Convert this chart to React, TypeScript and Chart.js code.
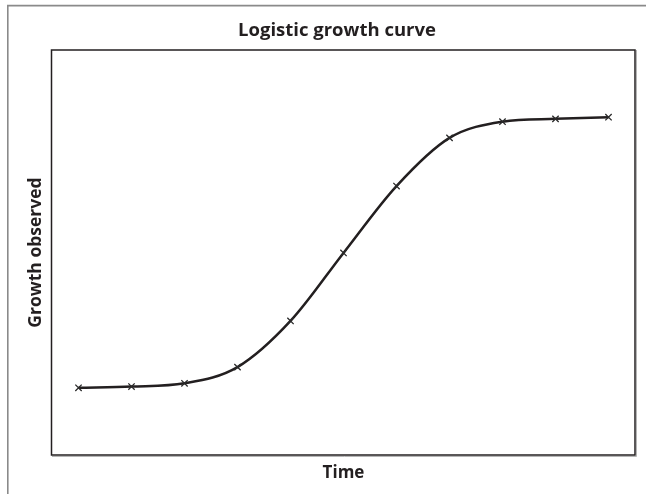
import React, { useEffect, useRef } from "react";
import { Chart, registerables } from "chart.js";

Chart.register(...registerables);

const timePoints = ["1", "2", "3", "4", "5", "6", "7", "8", "9", "10", "11"];
const growthValues = [16.6, 16.9, 17.7, 21.7, 33.1, 49.9, 66.4, 78.3, 82.3, 83.0, 83.4];
const chartTitle = "Logistic growth curve";
const xTitle = "Time";
const yTitle = "Growth observed";

const FONT = "'Open Sans', 'DejaVu Sans', sans-serif";
const INK = "#231f20";

const framePlugin = {
  id: "frame",
  beforeDraw(chart: any) {
    const { ctx, width, height } = chart;
    ctx.save();
    ctx.fillStyle = "#ffffff";
    ctx.fillRect(0, 0, width, height);
    ctx.strokeStyle = "#8a8a8a";
    ctx.lineWidth = 1.6;
    ctx.beginPath();
    ctx.moveTo(7.8, height);
    ctx.lineTo(7.8, 5.6);
    ctx.lineTo(width, 5.6);
    ctx.stroke();
    ctx.restore();
  },
  afterDraw(chart: any) {
    const { ctx, chartArea } = chart;
    const { left, right, top, bottom } = chartArea;
    ctx.save();
    ctx.strokeStyle = "#b5b5b5";
    ctx.lineWidth = 1;
    ctx.beginPath();
    ctx.moveTo(right + 1.5, top);
    ctx.lineTo(right + 1.5, bottom + 1.5);
    ctx.lineTo(left, bottom + 1.5);
    ctx.stroke();
    ctx.strokeStyle = INK;
    ctx.lineWidth = 1.5;
    ctx.strokeRect(left - 0.5, top, right - left + 0.5, bottom - top);
    ctx.restore();
  },
};

export default function App() {
  const canvasRef = useRef<HTMLCanvasElement | null>(null);

  useEffect(() => {
    document.body.style.margin = "0";
    const canvas = canvasRef.current;
    if (!canvas) return;
    const chart = new Chart(canvas, {
      type: "line",
      data: {
        labels: timePoints,
        datasets: [
          {
            data: growthValues,
            borderColor: INK,
            borderWidth: 2.5,
            cubicInterpolationMode: "monotone",
            pointStyle: "crossRot",
            pointRadius: 4.5,
            pointBorderWidth: 1.3,
            pointBorderColor: "#2a2a2a",
            pointBackgroundColor: "#2a2a2a",
            fill: false,
          },
        ],
      },
      options: {
        responsive: false,
        animation: false,
        devicePixelRatio: 1,
        layout: { padding: { left: 39, right: 11, top: 0, bottom: 0 } },
        plugins: {
          legend: { display: false },
          tooltip: { enabled: false },
          title: {
            display: true,
            text: chartTitle,
            color: INK,
            font: { family: FONT, size: 18.5, weight: "bold", lineHeight: 1.2 },
            padding: { top: 19.9, bottom: 7.9 },
          },
        },
        scales: {
          x: {
            type: "category",
            offset: true,
            grid: { display: false, drawTicks: false },
            border: { display: false },
            ticks: { display: false },
            title: {
              display: true,
              text: xTitle,
              color: INK,
              font: { family: FONT, size: 17, weight: "bold", lineHeight: 1.2 },
              padding: { top: 7.8, bottom: 10.8 },
            },
          },
          y: {
            type: "linear",
            min: 0,
            max: 100,
            grid: { display: false, drawTicks: false },
            border: { display: false },
            ticks: { display: false },
            title: {
              display: true,
              text: yTitle,
              color: INK,
              font: { family: FONT, size: 17.5, weight: "bold", lineHeight: 1.2 },
              padding: { top: -13.5, bottom: 5.5 },
            },
          },
        },
      },
      plugins: [framePlugin],
    });
    return () => chart.destroy();
  }, []);

  return <canvas ref={canvasRef} width={646} height={494} style={{ display: "block" }} />;
}
